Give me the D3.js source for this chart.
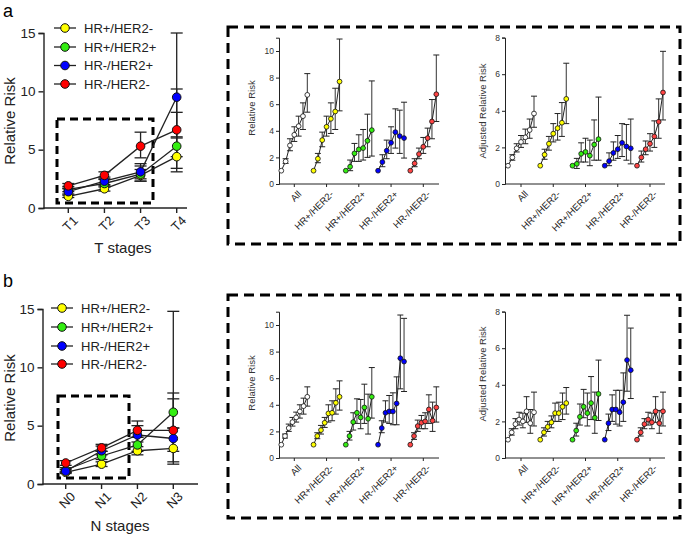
<!DOCTYPE html>
<html>
<head>
<meta charset="utf-8">
<script src="https://cdn.jsdelivr.net/npm/d3@7"></script>
<style>
body { margin: 0; background: #fff; }
svg { font-family: Arial, "Liberation Sans", sans-serif; }
</style>
</head>
<body>
<script>
// values: [estimate, lower CI, upper CI]

var subtypes = ["HR+/HER2-", "HR+/HER2+", "HR-/HER2+", "HR-/HER2-"];
var tStages = ["T1", "T2", "T3", "T4"];
var nStages = ["N0", "N1", "N2", "N3"];

// relative risk by T stage, one array per subtype
var tHRposHER2neg = [[1.0, 0.9, 1.1], [1.65, 1.45, 1.9], [2.8, 2.3, 3.3], [4.4, 3.1, 6.1]];
var tHRposHER2pos = [[1.6, 1.4, 1.85], [2.1, 1.8, 2.45], [2.9, 2.3, 3.6], [5.3, 3.4, 8.2]];
var tHRnegHER2pos = [[1.4, 1.2, 1.65], [2.3, 2.0, 2.65], [3.1, 2.5, 3.8], [9.5, 6.0, 15.0]];
var tHRnegHER2neg = [[1.9, 1.7, 2.1], [2.8, 2.5, 3.1], [5.3, 4.3, 6.5], [6.7, 4.4, 10.2]];

// relative risk by N stage
var nHRposHER2neg = [[1.0, 0.9, 1.1], [1.7, 1.5, 1.9], [2.85, 2.5, 3.2], [3.05, 1.9, 4.8]];
var nHRposHER2pos = [[1.2, 1.0, 1.4], [2.4, 2.1, 2.8], [3.35, 2.8, 4.0], [6.15, 4.8, 7.8]];
var nHRnegHER2pos = [[1.1, 1.0, 1.25], [2.85, 2.5, 3.25], [4.2, 3.6, 5.0], [3.9, 1.7, 14.8]];
var nHRnegHER2neg = [[1.8, 1.6, 2.0], [3.1, 2.8, 3.4], [4.6, 4.0, 5.4], [4.6, 2.8, 7.3]];

var insetGroups = ["All", "HR+/HER2-", "HR+/HER2+", "HR-/HER2+", "HR-/HER2-"];

// detailed T substages (7 per group)
var tDetailRR = [
  [[1, 1, 1], [1.7, 1.55, 1.9], [2.9, 2.5, 3.4], [3.7, 3.2, 4.3], [4.35, 3.6, 5.1], [5.1, 4.1, 6.1], [6.7, 5.4, 8.3]],
  [[1, 1, 1], [1.9, 1.6, 2.3], [3.3, 2.8, 3.9], [4.3, 3.6, 5.1], [4.9, 3.8, 6.1], [5.45, 4.1, 7.2], [7.7, 5.5, 10.9]],
  [[1, 1, 1], [1.3, 1.0, 1.8], [2.3, 1.7, 3.05], [2.6, 1.7, 3.7], [2.7, 1.8, 4.1], [3.25, 2.0, 5.25], [4.05, 2.1, 7.75]],
  [[1, 1, 1], [1.65, 1.3, 2.2], [2.5, 1.9, 3.3], [3.1, 2.3, 4.3], [3.9, 2.7, 5.65], [3.6, 2.3, 5.55], [3.45, 1.95, 6.15]],
  [[1, 1, 1], [1.55, 1.3, 1.9], [2.25, 1.9, 2.7], [2.8, 2.3, 3.5], [3.45, 2.8, 4.2], [4.7, 3.4, 6.35], [6.75, 4.7, 9.7]]
];
var tDetailAdj = [
  [[1, 1, 1], [1.45, 1.3, 1.6], [1.95, 1.75, 2.2], [2.3, 2.0, 2.65], [2.55, 2.2, 3.0], [2.95, 2.5, 3.55], [3.85, 3.1, 4.8]],
  [[1, 1, 1], [1.6, 1.35, 1.9], [2.2, 1.85, 2.6], [2.75, 2.3, 3.3], [3.05, 2.4, 3.85], [3.35, 2.6, 4.45], [4.65, 3.3, 6.6]],
  [[1, 1, 1], [1.1, 0.85, 1.4], [1.65, 1.2, 2.25], [1.75, 1.2, 2.5], [1.55, 1.0, 2.4], [2.15, 1.3, 3.5], [2.45, 1.3, 4.75]],
  [[1, 1, 1], [1.25, 1.0, 1.7], [1.7, 1.3, 2.3], [1.9, 1.4, 2.65], [2.25, 1.5, 3.3], [2.05, 1.3, 3.25], [1.95, 1.1, 3.55]],
  [[1, 1, 1], [1.45, 1.2, 1.8], [1.9, 1.6, 2.35], [2.2, 1.8, 2.75], [2.6, 2.0, 3.45], [3.4, 2.5, 4.65], [5.0, 3.5, 7.25]]
];

// detailed N substages (8 per group)
var nDetailRR = [
  [[1, 1, 1], [1.65, 1.5, 1.8], [2.25, 2.0, 2.55], [2.7, 2.4, 3.05], [3.05, 2.7, 3.45], [3.5, 3.0, 4.0], [3.9, 3.3, 4.5], [4.6, 3.9, 5.35]],
  [[1, 1, 1], [1.65, 1.45, 1.9], [2.1, 1.8, 2.45], [2.65, 2.3, 3.05], [3.35, 2.7, 4.0], [3.4, 2.8, 4.3], [4.15, 3.3, 5.2], [4.6, 3.6, 5.8]],
  [[1, 1, 1], [1.65, 1.35, 2.0], [2.7, 2.1, 3.4], [3.4, 2.6, 4.45], [3.05, 2.2, 4.4], [3.8, 2.6, 5.55], [2.95, 1.8, 4.8], [4.6, 3.0, 6.8]],
  [[1, 1, 1], [2.25, 1.9, 2.8], [3.4, 2.7, 4.3], [3.5, 2.6, 4.7], [3.5, 2.5, 4.9], [4.1, 2.5, 6.1], [7.5, 5.2, 10.75], [7.25, 5.0, 10.5]],
  [[1, 1, 1], [1.65, 1.4, 1.9], [2.4, 2.0, 2.85], [2.65, 2.2, 3.2], [2.75, 2.2, 3.4], [3.65, 2.6, 4.75], [2.8, 2.0, 4.2], [3.8, 2.7, 5.35]]
];
var nDetailAdj = [
  [[1, 1, 1], [1.4, 1.25, 1.6], [1.85, 1.6, 2.15], [2.1, 1.8, 2.5], [2.0, 1.65, 2.45], [2.55, 1.95, 3.35], [1.9, 1.35, 2.65], [2.5, 1.75, 3.6]],
  [[1, 1, 1], [1.4, 1.2, 1.65], [1.7, 1.45, 2.0], [1.95, 1.65, 2.3], [2.45, 2.0, 3.0], [2.45, 2.0, 3.05], [2.8, 2.1, 3.55], [3.0, 2.4, 3.85]],
  [[1, 1, 1], [1.5, 1.2, 1.9], [2.25, 1.8, 2.95], [2.8, 2.2, 3.75], [2.45, 1.75, 3.55], [3.0, 2.1, 4.45], [2.2, 1.35, 3.6], [3.5, 2.05, 5.35]],
  [[1, 1, 1], [1.9, 1.5, 2.4], [2.65, 2.0, 3.45], [2.65, 1.85, 3.7], [2.5, 1.75, 3.7], [3.05, 2.0, 4.65], [5.35, 3.65, 7.8], [4.8, 3.25, 7.1]],
  [[1, 1, 1], [1.4, 1.2, 1.65], [1.85, 1.6, 2.15], [2.1, 1.8, 2.5], [1.95, 1.6, 2.45], [2.55, 1.95, 3.35], [1.9, 1.35, 2.6], [2.55, 1.75, 3.6]]
];

var subtypeColors = ["#ffff00", "#33ee11", "#0000ff", "#ff0000"];
var insetColors = ["#ffffff", "#ffff00", "#33ee11", "#0000ff", "#ff4444"];

var svg = d3.select("body").append("svg")
    .attr("width", 685)
    .attr("height", 536);

// panel letters
svg.append("text").attr("x", 3).attr("y", 17).attr("font-size", 18).text("a");
svg.append("text").attr("x", 3).attr("y", 287).attr("font-size", 18).text("b");

// big dashed frames around insets
[[27, 244], [295, 518]].forEach(function(r) {
    svg.append("rect")
        .attr("x", 228).attr("y", r[0])
        .attr("width", 452).attr("height", r[1] - r[0])
        .attr("fill", "none")
        .attr("stroke", "#000")
        .attr("stroke-width", 3)
        .attr("stroke-dasharray", "10,6");
});

function stageChart(c) {
    var g = svg.append("g");
    var y = d3.scaleLinear().domain([0, 15]).range([c.y0, c.y15]);
    var x = d3.scalePoint().domain(c.stages).range([c.tx0, c.tx1]);

    var yAx = g.append("g")
        .attr("transform", "translate(" + c.ax0 + ",0)")
        .call(d3.axisLeft(y).tickValues([0, 5, 10, 15]).tickSize(5).tickPadding(3));
    yAx.selectAll("text").attr("font-size", 13.5).attr("fill", "#222");
    yAx.selectAll("line,path").attr("stroke", "#222").attr("stroke-width", 1.4);

    // x axis line and ticks
    g.append("line")
        .attr("x1", c.ax0).attr("x2", c.ax1)
        .attr("y1", c.y0).attr("y2", c.y0)
        .attr("stroke", "#222").attr("stroke-width", 1.4);
    c.stages.forEach(function(s) {
        g.append("line")
            .attr("x1", x(s)).attr("x2", x(s))
            .attr("y1", c.y0).attr("y2", c.y0 + 5)
            .attr("stroke", "#222").attr("stroke-width", 1.4);
        g.append("text")
            .attr("transform", "translate(" + (x(s) + 4) + "," + (c.y0 + 7) + ") rotate(-45)")
            .attr("text-anchor", "end")
            .attr("dy", "0.7em")
            .attr("font-size", 13)
            .attr("fill", "#222")
            .text(s);
    });

    g.append("text")
        .attr("x", c.xlabelX).attr("y", c.xlabelY)
        .attr("text-anchor", "middle")
        .attr("font-size", 15)
        .attr("fill", "#222")
        .text(c.xlabel);
    g.append("text")
        .attr("transform", "translate(15," + c.ylabelY + ") rotate(-90)")
        .attr("text-anchor", "middle")
        .attr("font-size", 15)
        .attr("fill", "#222")
        .text("Relative Risk");

    // zoom box
    g.append("rect")
        .attr("x", c.box[0]).attr("y", c.box[1])
        .attr("width", c.box[2] - c.box[0]).attr("height", c.box[3] - c.box[1])
        .attr("fill", "none")
        .attr("stroke", "#000")
        .attr("stroke-width", 3)
        .attr("stroke-dasharray", "8,5");

    // error bars
    c.series.forEach(function(ser) {
        ser.forEach(function(d, i) {
            var cx = x(c.stages[i]);
            g.append("line").attr("x1", cx).attr("x2", cx)
                .attr("y1", y(d[1])).attr("y2", y(d[2]))
                .attr("stroke", "#222").attr("stroke-width", 1.3);
            [d[1], d[2]].forEach(function(v) {
                g.append("line").attr("x1", cx - 6).attr("x2", cx + 6)
                    .attr("y1", y(v)).attr("y2", y(v))
                    .attr("stroke", "#222").attr("stroke-width", 1.3);
            });
        });
    });

    var line = d3.line()
        .x(function(d, i) { return x(c.stages[i]); })
        .y(function(d) { return y(d[0]); });

    c.series.forEach(function(ser) {
        g.append("path").attr("d", line(ser))
            .attr("fill", "none").attr("stroke", "#222").attr("stroke-width", 1.3);
    });
    c.series.forEach(function(ser, k) {
        g.selectAll(null).data(ser).enter().append("circle")
            .attr("cx", function(d, i) { return x(c.stages[i]); })
            .attr("cy", function(d) { return y(d[0]); })
            .attr("r", 4.3)
            .attr("fill", subtypeColors[k])
            .attr("stroke", "#111").attr("stroke-width", 1);
    });

    // legend
    subtypes.forEach(function(s, k) {
        var ly = c.legY[k];
        g.append("line").attr("x1", c.legX - 11).attr("x2", c.legX + 11)
            .attr("y1", ly).attr("y2", ly)
            .attr("stroke", "#222").attr("stroke-width", 1.3);
        g.append("circle").attr("cx", c.legX).attr("cy", ly).attr("r", 4.3)
            .attr("fill", subtypeColors[k]).attr("stroke", "#111");
        g.append("text").attr("x", c.legX + 19).attr("y", ly)
            .attr("dy", "0.35em")
            .attr("font-size", 13)
            .attr("fill", "#222")
            .text(s);
    });
}

function inset(c) {
    var g = svg.append("g");
    var y = d3.scaleLinear().domain([0, c.yMax]).range([c.y0, c.y0 - c.yMax * c.unit]);
    var gx = d3.scalePoint().domain(insetGroups).range([c.gx0, c.gx0 + 129]);
    var n = c.data[0].length;
    var px = d3.scalePoint().domain(d3.range(n)).range([-13, 13]);

    var yAx = g.append("g")
        .attr("transform", "translate(" + c.ax0 + ",0)")
        .call(d3.axisLeft(y).tickValues(c.ticks).tickSize(3).tickPadding(2));
    yAx.selectAll("text").attr("font-size", 8.5).attr("fill", "#333")
        .attr("font-family", "Arial, 'Liberation Sans', sans-serif");
    yAx.selectAll("line,path").attr("stroke", "#222").attr("stroke-width", 1);

    g.append("line")
        .attr("x1", c.ax0).attr("x2", c.ax0 + 160)
        .attr("y1", c.y0).attr("y2", c.y0)
        .attr("stroke", "#222").attr("stroke-width", 1);
    insetGroups.forEach(function(s) {
        g.append("line")
            .attr("x1", gx(s)).attr("x2", gx(s))
            .attr("y1", c.y0).attr("y2", c.y0 + 3)
            .attr("stroke", "#222");
        g.append("text")
            .attr("transform", "translate(" + (gx(s) + 3) + "," + (c.y0 + 6) + ") rotate(-45)")
            .attr("text-anchor", "end")
            .attr("dy", "0.7em")
            .attr("font-size", 9.5)
            .attr("fill", "#222")
            .text(s);
    });

    g.append("text")
        .attr("transform", "translate(" + c.ylabelX + "," + c.ylabelY + ") rotate(-90)")
        .attr("text-anchor", "middle")
        .attr("font-size", 9.5)
        .attr("fill", "#333")
        .text(c.ylabel);

    c.data.forEach(function(grp, k) {
        var cx0 = gx(insetGroups[k]);
        grp.forEach(function(d, i) {
            if (d[1] === d[2]) return;
            var cx = cx0 + px(i);
            g.append("line").attr("x1", cx).attr("x2", cx)
                .attr("y1", y(d[1])).attr("y2", y(d[2]))
                .attr("stroke", "#333").attr("stroke-width", 1);
            [d[1], d[2]].forEach(function(v) {
                g.append("line").attr("x1", cx - 3).attr("x2", cx + 3)
                    .attr("y1", y(v)).attr("y2", y(v))
                    .attr("stroke", "#222").attr("stroke-width", 1);
            });
        });
        var line = d3.line()
            .x(function(d, i) { return cx0 + px(i); })
            .y(function(d) { return y(d[0]); });
        g.append("path").attr("d", line(grp))
            .attr("fill", "none").attr("stroke", "#222").attr("stroke-width", 1);
        g.selectAll(null).data(grp).enter().append("circle")
            .attr("cx", function(d, i) { return cx0 + px(i); })
            .attr("cy", function(d) { return y(d[0]); })
            .attr("r", 2.4)
            .attr("fill", insetColors[k])
            .attr("stroke", "#111").attr("stroke-width", 0.8);
    });
}

stageChart({
    stages: tStages,
    series: [tHRposHER2neg, tHRposHER2pos, tHRnegHER2pos, tHRnegHER2neg],
    y0: 208, y15: 33, ax0: 43.5, ax1: 187, tx0: 68.3, tx1: 176.7,
    xlabel: "T stages", xlabelX: 123, xlabelY: 253, ylabelY: 121,
    box: [57, 119, 153, 203],
    legX: 65, legY: [28, 47, 65.5, 84]
});

stageChart({
    stages: nStages,
    series: [nHRposHER2neg, nHRposHER2pos, nHRnegHER2pos, nHRnegHER2neg],
    y0: 484, y15: 309, ax0: 42.5, ax1: 198, tx0: 65.7, tx1: 173.3,
    xlabel: "N stages", xlabelX: 120, xlabelY: 531, ylabelY: 398,
    box: [58, 396, 129, 478],
    legX: 62, legY: [308, 327, 346, 364]
});

inset({ data: tDetailRR, yMax: 11, unit: 13.3, y0: 184, ax0: 279, gx0: 294.3, ticks: [0, 2, 4, 6, 8, 10],
        ylabel: "Relative Risk", ylabelX: 255, ylabelY: 108 });
inset({ data: tDetailAdj, yMax: 8, unit: 18.3, y0: 184, ax0: 505, gx0: 521, ticks: [0, 2, 4, 6, 8],
        ylabel: "Adjusted Relative Risk", ylabelX: 486, ylabelY: 111 });
inset({ data: nDetailRR, yMax: 11, unit: 13.3, y0: 458, ax0: 279, gx0: 294.3, ticks: [0, 2, 4, 6, 8, 10],
        ylabel: "Relative Risk", ylabelX: 255, ylabelY: 383 });
inset({ data: nDetailAdj, yMax: 8, unit: 18.3, y0: 458, ax0: 505, gx0: 521, ticks: [0, 2, 4, 6, 8],
        ylabel: "Adjusted Relative Risk", ylabelX: 486, ylabelY: 374 });
</script>
